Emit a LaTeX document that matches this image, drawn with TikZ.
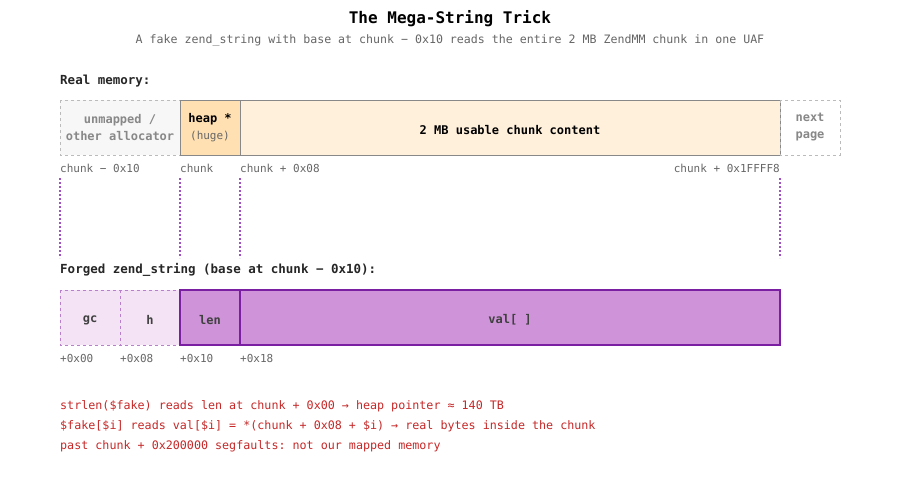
\documentclass[tikz,border=0pt]{standalone}
\usepackage{fontspec}
\setmonofont{DejaVu Sans Mono}
\definecolor{gridgray}{HTML}{BBBBBB}
\definecolor{boxgray}{HTML}{888888}
\definecolor{heapfill}{HTML}{FFE0B2}
\definecolor{chunkfill}{HTML}{FFF0DC}
\definecolor{fakelight}{HTML}{F3E3F5}
\definecolor{fakedark}{HTML}{CE93D8}
\definecolor{fakeline}{HTML}{7B1FA2}
\definecolor{fakedash}{HTML}{B87FCC}
\definecolor{guide}{HTML}{A050C0}
\definecolor{note}{HTML}{C62828}
\definecolor{lbl}{HTML}{666666}
\tikzset{
  txt/.style={font=\ttfamily\fontsize{11}{13}\selectfont, inner sep=0pt},
  addr/.style={txt, text=lbl, anchor=west},
  hdr/.style={font=\ttfamily\bfseries\fontsize{12.5}{14}\selectfont, text=black!85, anchor=west, inner sep=0pt},
  boxbold/.style={txt, font=\ttfamily\bfseries\fontsize{12}{17}\selectfont},
  notetxt/.style={txt, text=note, anchor=west, font=\ttfamily\fontsize{11.7}{13}\selectfont},
}
\begin{document}
\begin{tikzpicture}[x=1pt,y=-1pt]
        \useasboundingbox[fill=white] (0,0) rectangle (900,480);
        % Titolo
        \node[font=\ttfamily\bfseries\fontsize{16}{18}\selectfont, inner sep=0pt] (title) at (450,19) {The Mega-String Trick};
        \node[txt, text=lbl, font=\ttfamily\fontsize{11.6}{13}\selectfont] (sub) at (450,40) {A fake zend\_string with base at chunk − 0x10 reads the entire 2 MB ZendMM chunk in one UAF};

        % Memoria reale
        \node[hdr] (realhdr) at (60,81) {Real memory:};
        \fill[black!3] (60,100) rectangle (180,155);
        \draw[gridgray, dashed, line width=1pt] (60,100) rectangle (180,155);
        \node[boxbold, text=boxgray, align=center] (unmapped) at (120,127.5) {unmapped /\\other allocator};
        \draw[boxgray, fill=heapfill, line width=1pt] (180,100) rectangle (240,155);
        \node[txt, align=center, font=\ttfamily\fontsize{12}{17}\selectfont] (heap) at (210,127.5) {\textbf{heap *}\\{\color{lbl}\fontsize{11}{13}\selectfont(huge)}};
        \draw[boxgray, fill=chunkfill, line width=1pt] (240,100) rectangle (780,155);
        \node[boxbold] (content) at (510,130) {2 MB usable chunk content};
        \draw[gridgray, dashed, line width=1pt] (780,100) rectangle (840,155);
        \node[boxbold, text=boxgray, align=center] (next) at (810,127.5) {next\\page};

        % Indirizzi
        \node[addr] (a0) at (60,168) {chunk − 0x10};
        \node[addr] (a1) at (180,168) {chunk};
        \node[addr] (a2) at (240,168) {chunk + 0x08};
        \node[addr, anchor=east] (a3) at (780,168) {chunk + 0x1FFFF8};
        \foreach \x in {60,180,240,780}
          \draw[guide, dash pattern=on 2pt off 2pt, line width=1.5pt] (\x,178) -- (\x,258);

        % Stringa falsa
        \node[hdr] (fakehdr) at (60,270) {Forged zend\_string (base at chunk − 0x10):};
        \draw[fakedash, fill=fakelight, dashed, line width=1pt] (60,290) rectangle (120,345);
        \draw[fakedash, fill=fakelight, dashed, line width=1pt] (120,290) rectangle (180,345);
        \draw[fakeline, fill=fakedark, line width=1.5pt] (180,290) rectangle (240,345);
        \draw[fakeline, fill=fakedark, line width=1.5pt] (240,290) rectangle (780,345);
        \node[boxbold, text=black!75] (gc) at (90,320) {gc};
        \node[boxbold, text=black!75] (h) at (150,320) {h};
        \node[boxbold, text=black!75] (len) at (210,320) {len};
        \node[boxbold, text=black!75] (val) at (510,320) {val[ ]};
        \node[addr] (o0) at (60,358) {+0x00};
        \node[addr] (o1) at (120,358) {+0x08};
        \node[addr] (o2) at (180,358) {+0x10};
        \node[addr] (o3) at (240,358) {+0x18};

        % Note
        \node[notetxt] (n1) at (60,406) {strlen(\$fake) reads len at chunk + 0x00 → heap pointer ≈ 140 TB};
        \node[notetxt] (n2) at (60,426) {\$fake[\$i] reads val[\$i] = *(chunk + 0x08 + \$i) → real bytes inside the chunk};
        \node[notetxt] (n3) at (60,446) {past chunk + 0x200000 segfaults: not our mapped memory};
\end{tikzpicture}
\end{document}
